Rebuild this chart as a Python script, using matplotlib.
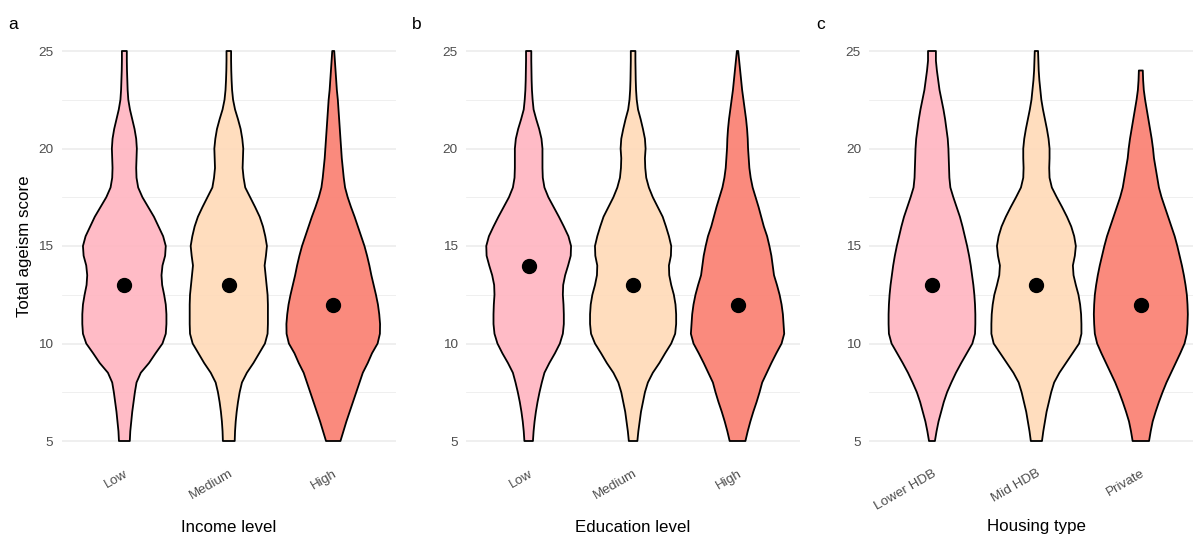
import matplotlib
matplotlib.use("Agg")
import matplotlib.pyplot as plt
import numpy as np
from matplotlib.colors import to_rgba

plt.rcParams['font.family'] = ['Liberation Sans', 'DejaVu Sans']

# score grid the violin outlines were read on (5 .. 25, step 0.5)
score_grid = np.arange(5, 25.01, 0.5)

# relative violin widths (density), bottom (5) to top (25)
income_low = [33, 36, 42, 48, 56, 64, 74, 100, 150, 190, 232, 252, 256, 256, 252, 242, 230, 226, 232, 248,
              252, 236, 208, 180, 145, 110, 84, 74, 72, 74, 76, 72, 62, 48, 34, 24, 20, 18, 16, 15, 15]
income_med = [36, 38, 42, 48, 56, 66, 80, 110, 150, 185, 220, 236, 238, 238, 238, 236, 230, 224, 218, 226,
              232, 222, 208, 188, 160, 130, 100, 90, 84, 86, 88, 82, 72, 56, 38, 26, 20, 17, 15, 14, 14]
income_high = [44, 62, 80, 100, 120, 140, 160, 180, 210, 236, 270, 284, 285, 280, 272, 260, 246, 232, 220, 206,
               190, 170, 150, 130, 108, 88, 72, 64, 58, 52, 48, 44, 40, 36, 32, 28, 22, 18, 14, 10, 6]

edu_low = [26, 30, 36, 44, 54, 66, 80, 96, 126, 160, 190, 208, 214, 214, 212, 208, 210, 222, 240, 256,
           258, 242, 214, 184, 152, 120, 96, 86, 84, 84, 84, 78, 64, 46, 30, 24, 20, 18, 17, 16, 16]
edu_med = [26, 32, 40, 48, 60, 72, 90, 120, 160, 195, 232, 256, 262, 262, 258, 248, 232, 220, 218, 230,
           232, 218, 200, 180, 150, 120, 96, 80, 74, 72, 76, 72, 60, 46, 30, 22, 18, 16, 15, 14, 14]
edu_high = [48, 62, 78, 96, 116, 134, 150, 178, 206, 236, 268, 284, 280, 276, 268, 256, 240, 222, 214, 206,
            194, 180, 160, 144, 128, 110, 92, 80, 72, 68, 64, 62, 58, 52, 44, 36, 28, 22, 16, 10, 4]

house_lower = [18, 28, 40, 56, 72, 92, 118, 146, 178, 212, 246, 262, 264, 264, 262, 258, 252, 244, 236, 226,
               214, 200, 186, 170, 150, 130, 112, 106, 104, 102, 100, 96, 88, 80, 70, 58, 46, 38, 30, 24, 24]
house_mid = [34, 42, 52, 62, 76, 90, 108, 140, 180, 220, 260, 274, 274, 272, 266, 256, 240, 226, 222, 234,
             240, 230, 212, 186, 156, 124, 94, 80, 78, 80, 80, 74, 64, 52, 40, 30, 24, 18, 14, 12, 10]
house_private = [50, 60, 72, 90, 110, 132, 156, 184, 212, 240, 266, 280, 284, 286, 284, 280, 272, 262, 250, 236,
                 222, 206, 186, 166, 146, 126, 110, 100, 90, 80, 74, 66, 56, 46, 36, 26, 18, 14, 12,
                 np.nan, np.nan]

income_medians = [13, 13, 12]
edu_medians = [14, 13, 12]
house_medians = [13, 13, 12]

income_labels = ["Low", "Medium", "High"]
edu_labels = ["Low", "Medium", "High"]
house_labels = ["Lower HDB", "Mid HDB", "Private"]

panel_titles = ["Income level", "Education level", "Housing type"]
panel_tags = ["a", "b", "c"]
fill_colors = ["#FFB6C1", "#FFDAB9", "#FA8072"]

panels = [
    ([income_low, income_med, income_high], income_medians, income_labels),
    ([edu_low, edu_med, edu_high], edu_medians, edu_labels),
    ([house_lower, house_mid, house_private], house_medians, house_labels),
]

# ggplot "area" scaling: widest violin across the figure gets width 0.9
max_w = np.nanmax([np.nanmax(v) for p in panels for v in p[0]])

W, H = 1193, 535
fig = plt.figure(figsize=(W / 100, H / 100), dpi=100)

lefts_px = [61.7, 466.0, 869.3]
width_px = 334.2
bottom_px = 535 - 460.5
height_px = 429.0
tag_x_px = [8, 412, 816]

for k, ((vios, meds, labels), title, tag) in enumerate(zip(panels, panel_titles, panel_tags)):
    ax = fig.add_axes([lefts_px[k] / W, bottom_px / H, width_px / W, height_px / H])

    for i, (w, med, col) in enumerate(zip(vios, meds, fill_colors)):
        w = np.asarray(w, dtype=float)
        ok = ~np.isnan(w)
        ys = score_grid[ok]
        hw = w[ok] / max_w * 0.45
        xs = np.concatenate([i - hw, (i + hw)[::-1]])
        yy = np.concatenate([ys, ys[::-1]])
        ax.fill(xs, yy, facecolor=to_rgba(col, 0.92), edgecolor="black", linewidth=1.3,
                joinstyle="round", zorder=3)
        ax.plot(i, med, "o", color="black", markersize=10, zorder=4)

    ax.set_xlim(-0.6, 2.6)
    ax.set_ylim(4, 26)
    ax.set_yticks([5, 10, 15, 20, 25])
    ax.set_yticks([7.5, 12.5, 17.5, 22.5], minor=True)
    ax.set_xticks(range(3))
    ax.set_xticklabels(labels, rotation=30, ha="right", rotation_mode="anchor")
    ax.grid(axis="y", which="major", color="#EBEBEB", linewidth=1.1, zorder=0)
    ax.grid(axis="y", which="minor", color="#EBEBEB", linewidth=0.55, zorder=0)
    ax.set_axisbelow(True)
    for s in ax.spines.values():
        s.set_visible(False)
    ax.tick_params(axis="both", which="both", length=0, labelsize=9.7, labelcolor="#4D4D4D")
    ax.tick_params(axis="y", pad=6)
    ax.tick_params(axis="x", pad=5)

    ax.set_xlabel(title, fontsize=12.2, color="black")
    ax.xaxis.label.set_va("baseline")
    ax.xaxis.set_label_coords(0.5, (3.5 - bottom_px) / height_px)

    fig.text(tag_x_px[k] / W, (535 - 29.3) / H, tag, fontsize=12.5, ha="left", va="baseline")

fig.text(24.5 / W, (535 - 246) / H, "Total ageism score", rotation=90, fontsize=12.2,
         ha="center", va="center")

fig.savefig("out.png", dpi=100)
